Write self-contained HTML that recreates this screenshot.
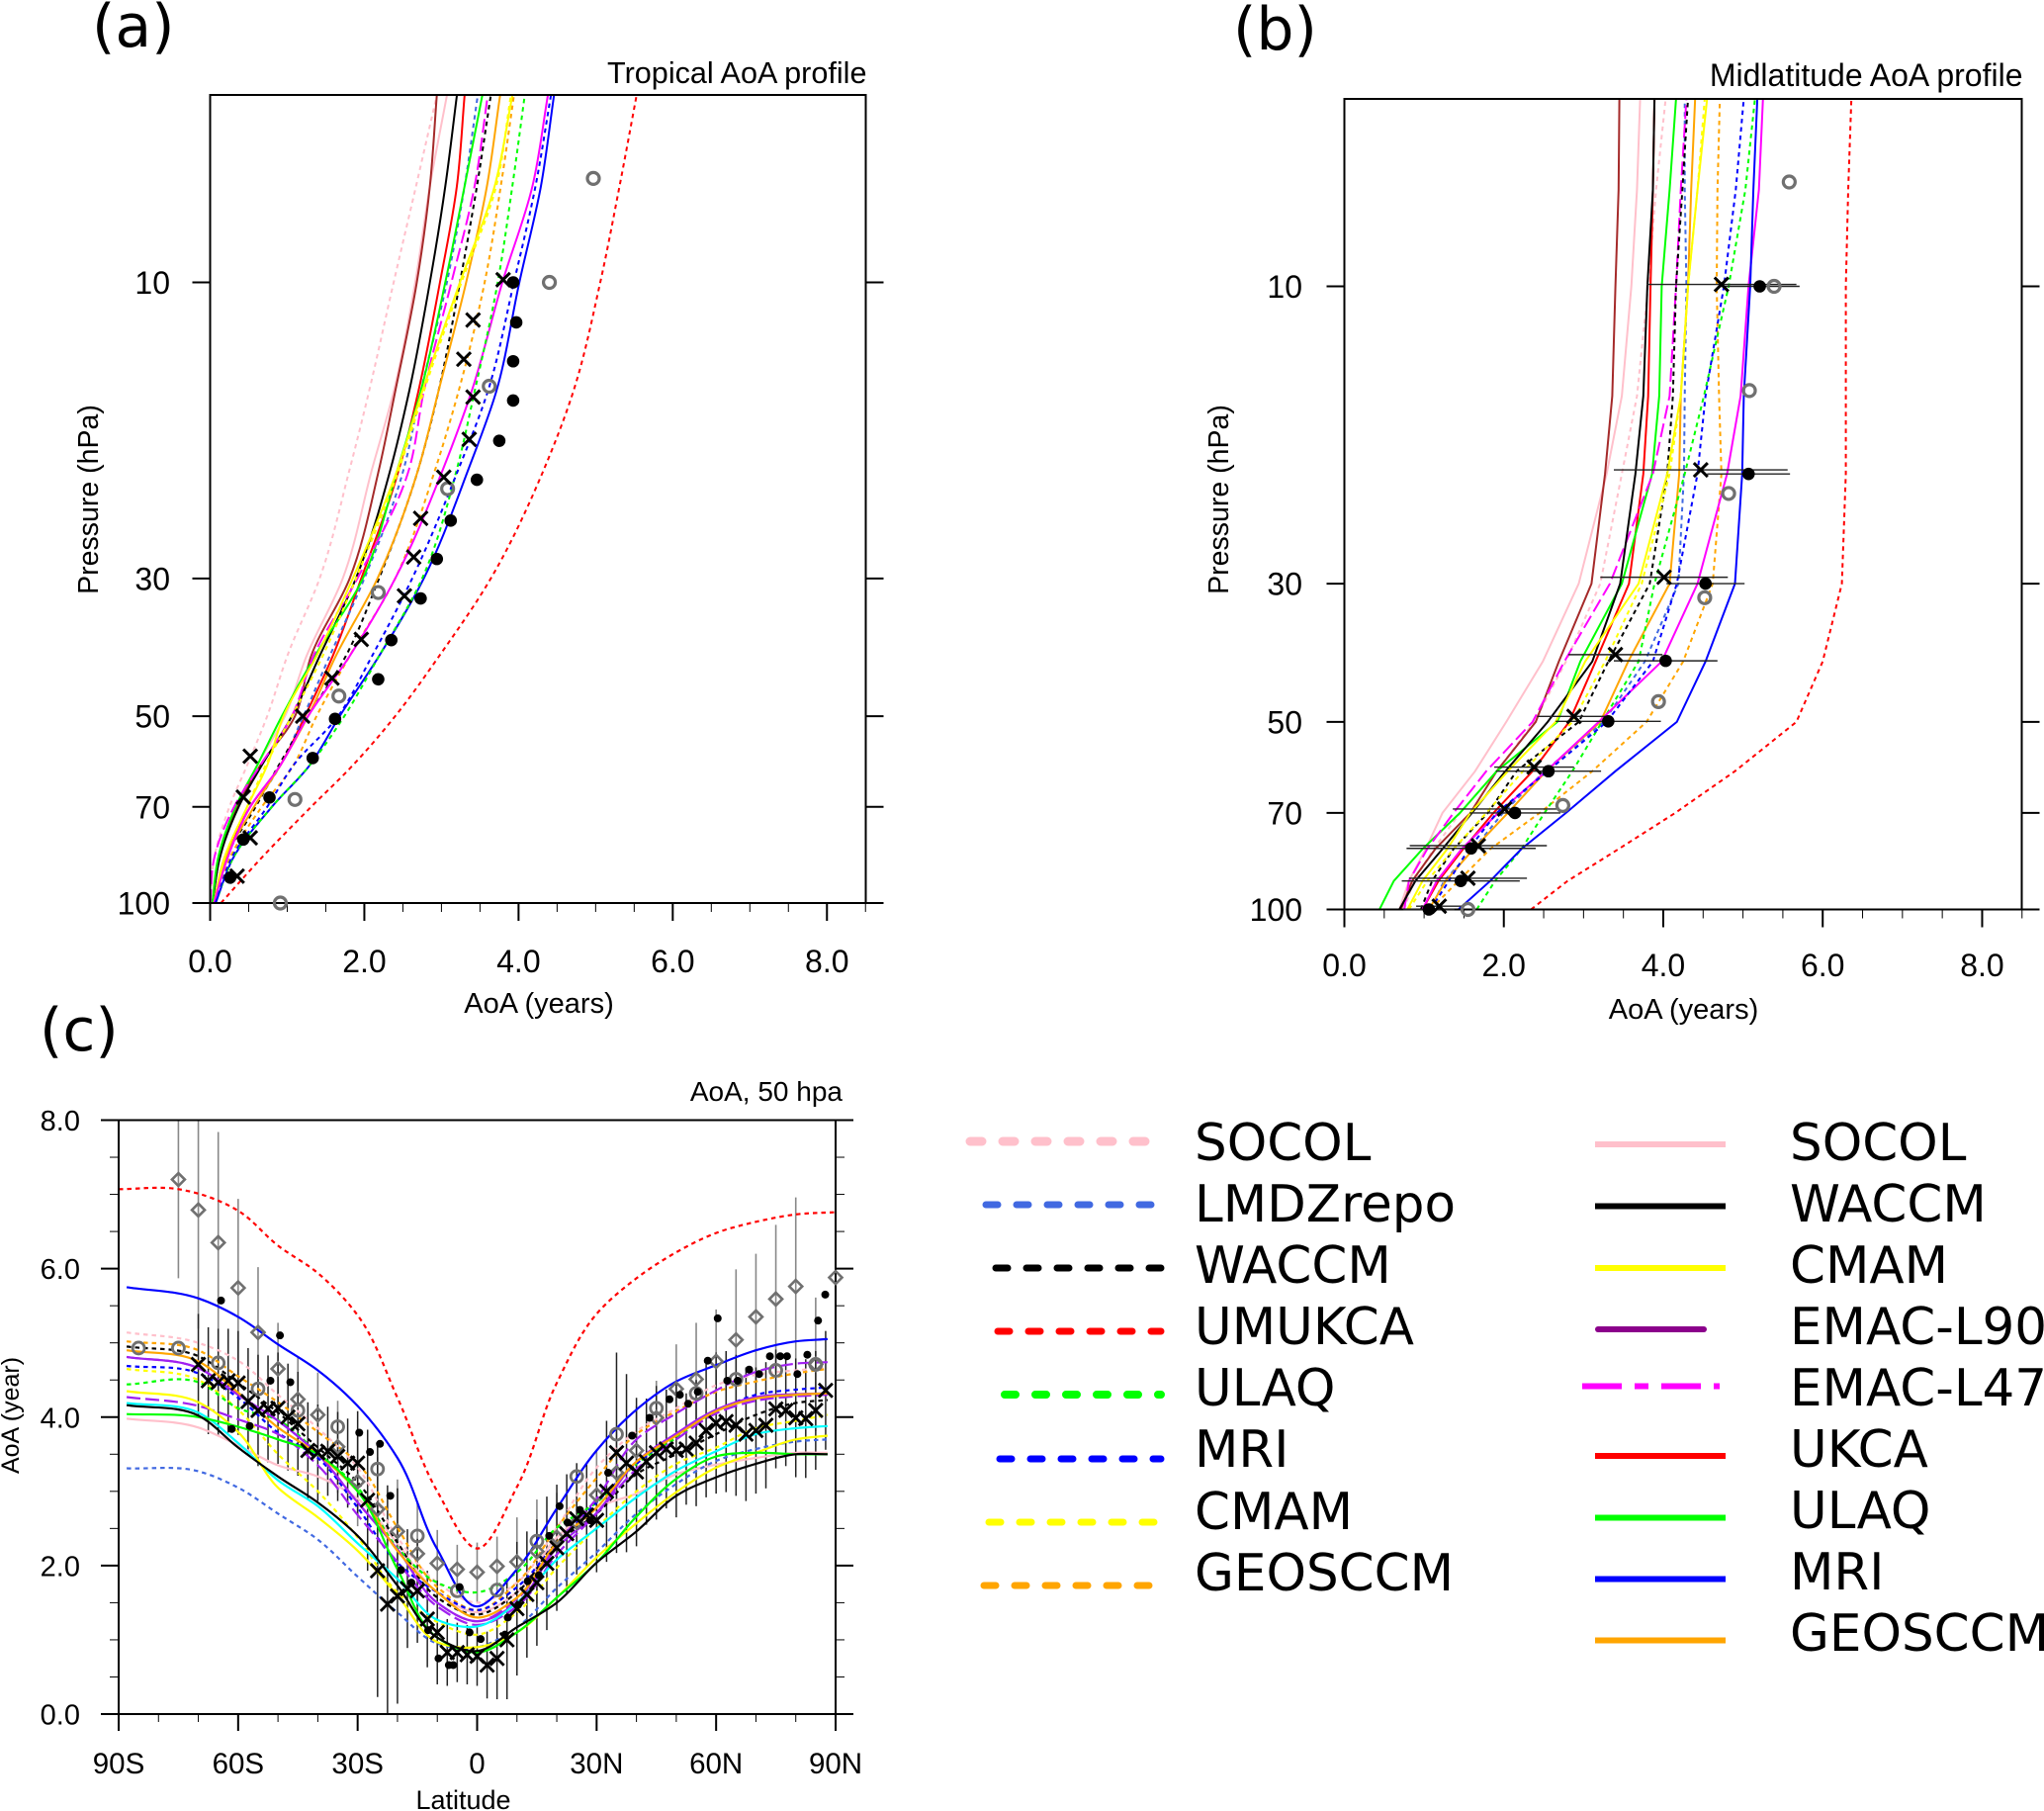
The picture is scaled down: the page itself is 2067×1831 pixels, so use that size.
<!DOCTYPE html>
<html lang="en">
<head>
<meta charset="utf-8">
<title>Age of air profiles</title>
<style>
html,body{margin:0;padding:0;background:#fff}
svg{display:block}
text{fill:#000;font-family:"Liberation Sans",Arial,sans-serif}
.leg{font-family:"DejaVu Sans",sans-serif;font-size:51.5px}
.tag{font-family:"DejaVu Sans",sans-serif;font-size:60px}
</style>
</head>
<body>
<svg id="fig" xmlns="http://www.w3.org/2000/svg" width="2067" height="1831" viewBox="0 0 2067 1831">
  <text class="tag" x="93" y="47">(a)</text>
  <text class="tag" x="1247" y="50">(b)</text>
  <text class="tag" x="40" y="1062">(c)</text>

  <g id="legend-left">
    <g><path d="M981 1154H1172" stroke="#ffc0cb" stroke-width="9" stroke-dasharray="12 21" stroke-linecap="round" fill="none"/><text class="leg" x="1208" y="1173">SOCOL</text></g>
    <g><path d="M997 1218H1165" stroke="#4169e1" stroke-width="7" stroke-dasharray="12 19" stroke-linecap="round" fill="none"/><text class="leg" x="1208" y="1235">LMDZrepo</text></g>
    <g><path d="M1007 1282H1174" stroke="#000" stroke-width="7" stroke-dasharray="12 19" stroke-linecap="round" fill="none"/><text class="leg" x="1208" y="1297">WACCM</text></g>
    <g><path d="M1009 1346H1174" stroke="#f00" stroke-width="7" stroke-dasharray="12 19" stroke-linecap="round" fill="none"/><text class="leg" x="1208" y="1359">UMUKCA</text></g>
    <g><path d="M1016 1410H1174" stroke="#0f0" stroke-width="8" stroke-dasharray="11 20" stroke-linecap="round" fill="none"/><text class="leg" x="1208" y="1421">ULAQ</text></g>
    <g><path d="M1011 1475H1174" stroke="#00f" stroke-width="7" stroke-dasharray="12 19" stroke-linecap="round" fill="none"/><text class="leg" x="1208" y="1483">MRI</text></g>
    <g><path d="M1000 1539H1167" stroke="#ff0" stroke-width="7" stroke-dasharray="12 19" stroke-linecap="round" fill="none"/><text class="leg" x="1208" y="1546">CMAM</text></g>
    <g><path d="M995 1603H1162" stroke="#ffa500" stroke-width="7" stroke-dasharray="12 19" stroke-linecap="round" fill="none"/><text class="leg" x="1208" y="1608">GEOSCCM</text></g>
  </g>
  <g id="legend-right">
    <g><path d="M1613 1157H1745" stroke="#ffc0cb" stroke-width="6" fill="none"/><text class="leg" x="1810" y="1173">SOCOL</text></g>
    <g><path d="M1613 1219.500H1745" stroke="#000" stroke-width="6" fill="none"/><text class="leg" x="1810" y="1235">WACCM</text></g>
    <g><path d="M1613 1282H1745" stroke="#ff0" stroke-width="6" fill="none"/><text class="leg" x="1810" y="1297">CMAM</text></g>
    <g><path d="M1616 1344H1723" stroke="#8b008b" stroke-width="6" stroke-linecap="round" fill="none"/><text class="leg" x="1810" y="1359">EMAC-L90</text></g>
    <g><path d="M1600 1401.500H1739" stroke="#f0f" stroke-width="6" stroke-dasharray="40 13 14 13" fill="none"/><text class="leg" x="1810" y="1421">EMAC-L47</text></g>
    <g><path d="M1613 1472H1745" stroke="#f00" stroke-width="6" fill="none"/><text class="leg" x="1810" y="1483">UKCA</text></g>
    <g><path d="M1613 1534.500H1745" stroke="#0f0" stroke-width="6" fill="none"/><text class="leg" x="1810" y="1545">ULAQ</text></g>
    <g><path d="M1613 1596.500H1745" stroke="#00f" stroke-width="6" fill="none"/><text class="leg" x="1810" y="1607">MRI</text></g>
    <g><path d="M1613 1658.500H1745" stroke="#ffa500" stroke-width="6" fill="none"/><text class="leg" x="1810" y="1669">GEOSCCM</text></g>
  </g>
</svg>

<script>
/* ---------- Panel (a): tropical profile, AoA in years at pressure levels ---------- */
const pressureLevelsA = [100, 85, 70, 60, 50, 40, 30, 20, 15, 10, 7, 5];
const aSocolDash = [0.00, 0.05, 0.25, 0.48, 0.74, 1.00, 1.42, 1.81, 2.06, 2.38, 2.67, 2.94];
const aSocol     = [0.02, 0.10, 0.33, 0.61, 0.97, 1.25, 1.72, 2.10, 2.38, 2.66, 2.85, 3.07];
const aBrown     = [0.03, 0.12, 0.35, 0.65, 1.10, 1.31, 1.81, 2.19, 2.40, 2.68, 2.85, 2.94];
const aWaccm     = [0.03, 0.12, 0.37, 0.67, 1.06, 1.42, 1.89, 2.34, 2.58, 2.85, 3.05, 3.20];
const aUkca      = [0.05, 0.18, 0.52, 0.91, 1.23, 1.59, 1.96, 2.45, 2.70, 2.98, 3.20, 3.30];
const aUlaq      = [0.03, 0.10, 0.33, 0.61, 0.93, 1.36, 1.98, 2.43, 2.73, 3.05, 3.30, 3.53];
const aLmdz      = [0.05, 0.20, 0.57, 0.91, 1.21, 1.55, 2.00, 2.51, 2.73, 3.07, 3.30, 3.47];
const aEmacL47   = [0.00, 0.05, 0.31, 0.65, 1.06, 1.34, 1.91, 2.58, 2.77, 3.13, 3.43, 3.60];
const aWaccmDash = [0.05, 0.20, 0.59, 0.89, 1.27, 1.76, 2.19, 2.70, 2.96, 3.24, 3.46, 3.64];
const aCmam      = [0.05, 0.18, 0.48, 0.74, 0.95, 1.38, 1.85, 2.43, 2.75, 3.24, 3.69, 3.92];
const aGeos      = [0.05, 0.20, 0.57, 0.91, 1.27, 1.63, 2.17, 2.70, 2.96, 3.32, 3.59, 3.76];
const aCmamDash  = [0.05, 0.18, 0.48, 0.72, 1.06, 1.46, 1.89, 2.45, 2.77, 3.26, 3.71, 3.90];
const aGeosDash  = [0.06, 0.25, 0.67, 1.08, 1.38, 1.81, 2.40, 2.92, 3.22, 3.56, 3.77, 3.94];
const aUlaqDash  = [0.07, 0.29, 0.80, 1.29, 1.74, 2.19, 2.75, 3.20, 3.43, 3.73, 3.92, 4.08];
const aEmacL90   = [0.05, 0.22, 0.52, 0.91, 1.27, 1.81, 2.40, 3.02, 3.39, 3.79, 4.18, 4.38];
const aMriDash   = [0.07, 0.27, 0.74, 1.08, 1.66, 2.10, 2.62, 3.22, 3.60, 3.94, 4.22, 4.42];
const aMri       = [0.07, 0.29, 0.80, 1.29, 1.68, 2.19, 2.77, 3.35, 3.71, 4.01, 4.29, 4.46];
const aUmukca    = [0.14, 0.65, 1.31, 1.85, 2.40, 2.97, 3.64, 4.33, 4.71, 5.06, 5.31, 5.53];

const aDotPressure = [10, 11.6, 13.4, 15.5, 18, 20.8, 24.2, 27.9, 32.3, 37.7, 43.6, 50.5, 58.4, 67.6, 79, 91];
const aDotValues   = [3.93, 3.97, 3.93, 3.93, 3.75, 3.46, 3.12, 2.94, 2.73, 2.35, 2.18, 1.62, 1.33, 0.77, 0.43, 0.26];
const aCrossPressure = [9.9, 11.5, 13.3, 15.3, 17.9, 20.6, 24, 27.7, 32, 37.6, 43.4, 50, 58, 67.5, 78.5, 90.5];
const aCrossValues   = [3.80, 3.41, 3.29, 3.41, 3.36, 3.03, 2.73, 2.64, 2.52, 1.96, 1.58, 1.20, 0.52, 0.43, 0.52, 0.35];
const ringPressure = [6.8, 10, 14.7, 21.5, 31.6, 46.4, 68.1, 100];
const aRingValues  = [4.97, 4.40, 3.62, 3.08, 2.18, 1.67, 1.10, 0.91];

/* ---------- Panel (b): midlatitude profile ---------- */
const pressureLevelsB = [100, 90, 80, 70, 60, 50, 40, 30, 20, 15, 10, 7, 5];
const bSocol     = [0.69, 0.81, 1.02, 1.23, 1.64, 2.03, 2.49, 2.94, 3.29, 3.48, 3.60, 3.67, 3.71];
const bBrown     = [0.71, 0.85, 1.14, 1.58, 1.91, 2.40, 2.69, 3.10, 3.27, 3.36, 3.40, 3.44, 3.45];
const bSocolDash = [0.75, 0.87, 1.12, 1.45, 1.91, 2.38, 2.78, 3.21, 3.48, 3.67, 3.81, 3.91, 4.03];
const bEmacL47   = [0.75, 0.81, 1.04, 1.37, 1.78, 2.36, 2.76, 3.33, 3.87, 4.08, 4.16, 4.22, 4.29];
const bWaccm     = [0.69, 0.89, 1.23, 1.60, 2.02, 2.55, 3.11, 3.46, 3.65, 3.75, 3.80, 3.87, 3.89];
const bUkca      = [0.98, 1.18, 1.49, 1.87, 2.36, 2.82, 3.15, 3.57, 3.75, 3.81, 3.84, 3.87, 3.89];
const bUlaq      = [0.44, 0.62, 0.98, 1.45, 1.91, 2.67, 2.96, 3.48, 3.86, 3.95, 3.98, 4.08, 4.16];
const bLmdz      = [1.08, 1.25, 1.62, 1.99, 2.51, 3.25, 3.77, 4.19, 4.26, 4.27, 4.29, 4.27, 4.27];
const bWaccmDash = [0.96, 1.10, 1.37, 1.80, 2.16, 2.94, 3.31, 3.83, 4.05, 4.12, 4.16, 4.24, 4.31];
const bCmam      = [0.79, 0.98, 1.29, 1.58, 2.05, 2.65, 3.02, 3.69, 4.05, 4.22, 4.31, 4.43, 4.55];
const bCmamDash  = [0.81, 1.04, 1.37, 1.78, 2.24, 2.86, 3.27, 3.73, 4.08, 4.22, 4.31, 4.43, 4.52];
const bGeos      = [1.06, 1.27, 1.62, 2.05, 2.53, 3.21, 3.56, 4.08, 4.20, 4.22, 4.31, 4.35, 4.40];
const bGeosDash  = [1.08, 1.43, 1.83, 2.45, 3.11, 3.79, 4.25, 4.62, 4.73, 4.70, 4.67, 4.68, 4.71];
const bUlaqDash  = [1.66, 1.89, 2.22, 2.51, 2.86, 3.23, 3.69, 3.89, 4.27, 4.51, 4.82, 5.03, 5.15];
const bEmacL90   = [0.98, 1.16, 1.47, 1.93, 2.53, 3.19, 3.98, 4.43, 4.80, 4.97, 5.07, 5.20, 5.25];
const bMriDash   = [1.08, 1.31, 1.56, 1.91, 2.55, 3.29, 3.87, 4.17, 4.43, 4.53, 4.76, 4.91, 5.01];
const bMri       = [1.43, 1.83, 2.22, 2.78, 3.40, 4.17, 4.53, 4.90, 4.99, 5.01, 5.09, 5.13, 5.18];
const bUmukca    = [2.34, 2.80, 3.44, 4.15, 4.90, 5.67, 6.00, 6.24, 6.29, 6.29, 6.29, 6.32, 6.36];

const bDotPressure = [10, 20, 30, 39.9, 49.9, 60, 70, 79.8, 90, 100];
const bDotValues   = [5.21, 5.07, 4.53, 4.03, 3.31, 2.56, 2.14, 1.59, 1.46, 1.06];
const bDotErrors   = [0.50, 0.52, 0.49, 0.65, 0.66, 0.66, 0.57, 0.81, 0.74, 0.32];
const bCrossPressure = [9.93, 19.7, 29.3, 39, 49, 59.1, 69, 79, 89.1, 98.8];
const bCrossValues   = [4.73, 4.47, 4.01, 3.40, 2.88, 2.38, 2.01, 1.68, 1.55, 1.19];
const bCrossErrors   = [0.94, 1.09, 0.80, 0.59, 0.46, 0.50, 0.65, 0.86, 0.74, 0.29];
const bRingValues    = [5.58, 5.39, 5.08, 4.82, 4.52, 3.94, 2.74, 1.55];

/* ---------- Panel (c): latitudinal AoA at 50 hPa ---------- */
const latitudes  = [-88, -70, -60, -50, -40, -30, -20, -10, 0, 10, 20, 30, 40, 50, 60, 70, 80, 88];
const latUmukca  = [-90, -75, -70, -60, -50, -40, -30, -20, -10, 0, 10, 20, 30, 40, 50, 60, 70, 80, 90];
const cUmukca    = [7.07, 7.07, 7.01, 6.78, 6.31, 5.94, 5.37, 4.26, 3.00, 2.23, 3.06, 4.46, 5.39, 5.87, 6.22, 6.48, 6.63, 6.73, 6.76];
const cMri       = [5.75, 5.60, 5.35, 4.98, 4.63, 4.15, 3.45, 2.22, 1.45, 1.95, 2.77, 3.55, 4.10, 4.48, 4.70, 4.90, 5.02, 5.05];
const cLmdz      = [3.31, 3.27, 3.05, 2.70, 2.35, 1.85, 1.37, 0.95, 0.90, 1.17, 1.70, 2.18, 2.70, 3.10, 3.41, 3.57, 3.67, 3.70];
const cWaccm     = [4.16, 4.02, 3.59, 3.20, 2.85, 2.40, 1.73, 1.03, 0.85, 1.17, 1.50, 2.04, 2.46, 2.94, 3.19, 3.37, 3.50, 3.50];
const cCmam      = [4.35, 4.20, 3.80, 3.05, 2.65, 2.20, 1.60, 0.97, 0.90, 1.10, 1.57, 2.11, 2.57, 2.99, 3.32, 3.52, 3.70, 3.75];
const cCyan      = [4.19, 4.06, 3.65, 3.15, 2.80, 2.30, 1.82, 1.27, 1.18, 1.50, 2.08, 2.50, 2.92, 3.28, 3.54, 3.77, 3.85, 3.88];
const cUlaq      = [4.04, 4.00, 3.87, 3.70, 3.50, 3.00, 1.95, 1.03, 0.83, 1.10, 1.57, 2.04, 2.66, 3.17, 3.47, 3.52, 3.50, 3.50];
const cSocol     = [3.98, 3.86, 3.62, 3.35, 3.20, 2.90, 2.30, 1.64, 1.37, 1.64, 2.38, 2.78, 2.97, 3.23, 3.36, 3.45, 3.52, 3.52];
const cUlaqDash  = [4.44, 4.47, 4.12, 3.96, 3.52, 3.05, 2.24, 1.77, 1.64, 1.91, 2.51, 2.85, 3.37, 3.72, 4.08, 4.25, 4.30, 4.32];
const cPurpleDash= [4.27, 4.15, 3.97, 3.77, 3.35, 2.68, 2.05, 1.45, 1.20, 1.45, 2.15, 2.70, 3.30, 3.70, 4.05, 4.22, 4.28, 4.30];
const cPurple    = [4.81, 4.66, 4.30, 3.95, 3.50, 2.85, 2.22, 1.50, 1.25, 1.50, 2.24, 2.71, 3.40, 3.78, 4.10, 4.27, 4.31, 4.32];
const cPurpleHigh= [4.81, 4.66, 4.30, 3.95, 3.50, 2.85, 2.22, 1.50, 1.25, 1.55, 2.30, 2.90, 3.70, 4.05, 4.36, 4.61, 4.72, 4.74];
const cGeos      = [4.90, 4.75, 4.33, 3.86, 3.50, 3.00, 2.20, 1.64, 1.30, 1.57, 2.31, 2.78, 3.40, 3.75, 4.08, 4.25, 4.30, 4.32];
const cGeosDash  = [5.02, 4.90, 4.55, 4.20, 3.80, 3.38, 2.51, 1.71, 1.40, 1.77, 2.51, 3.18, 3.77, 4.08, 4.34, 4.48, 4.59, 4.65];
const cWaccmDash = [4.95, 4.82, 4.46, 4.06, 3.59, 3.12, 2.31, 1.57, 1.34, 1.64, 2.31, 2.70, 3.23, 3.50, 3.77, 4.03, 4.19, 4.23];
const cSocolDash = [5.14, 5.00, 4.76, 4.30, 3.85, 3.32, 2.38, 1.77, 1.50, 1.77, 2.51, 3.32, 3.81, 4.12, 4.43, 4.57, 4.63, 4.66];
const cMriDash   = [4.69, 4.59, 4.26, 3.79, 3.45, 2.78, 2.04, 1.64, 1.40, 1.71, 2.31, 2.85, 3.37, 3.77, 4.08, 4.30, 4.37, 4.40];
const cCmamDash  = [4.65, 4.50, 4.10, 3.50, 3.00, 2.38, 1.64, 1.24, 1.07, 1.37, 1.97, 2.51, 3.00, 3.37, 3.59, 3.85, 3.95, 4.03];

const crossLats = [-70, -67.5, -65, -62.5, -60, -57.5, -55, -52.5, -50, -47.5, -45, -42.5, -40, -37.5, -35, -32.5, -30, -27.5, -25, -22.5, -20, -17.5, -15, -12.5, -10, -7.5, -5, -2.5, 0, 2.5, 5, 7.5, 10, 12.5, 15, 17.5, 20, 22.5, 25, 27.5, 30, 32.5, 35, 37.5, 40, 42.5, 45, 47.5, 50, 52.5, 55, 57.5, 60, 62.5, 65, 67.5, 70, 72.5, 75, 77.5, 80, 82.5, 85, 87.5];
const crossVals = [4.71, 4.49, 4.47, 4.49, 4.46, 4.21, 4.09, 4.11, 4.12, 4.00, 3.91, 3.55, 3.52, 3.54, 3.47, 3.38, 3.38, 2.88, 1.93, 1.48, 1.59, 1.69, 1.66, 1.28, 1.10, 0.83, 0.83, 0.80, 0.78, 0.66, 0.75, 1.00, 1.42, 1.61, 1.77, 2.03, 2.24, 2.43, 2.63, 2.68, 2.61, 3.00, 3.52, 3.38, 3.26, 3.40, 3.52, 3.57, 3.55, 3.57, 3.65, 3.82, 3.92, 3.94, 3.89, 3.77, 3.82, 3.89, 4.11, 4.09, 3.99, 3.98, 4.09, 4.36];
const crossErrs = [0.68, 0.72, 0.72, 0.70, 0.70, 0.72, 0.75, 0.72, 0.75, 0.72, 0.70, 0.65, 0.65, 0.60, 0.60, 0.60, 0.70, 0.95, 1.70, 1.60, 1.45, 0.80, 0.70, 0.65, 0.70, 0.45, 0.40, 0.40, 0.40, 0.45, 0.55, 0.80, 0.90, 0.85, 0.85, 0.90, 0.85, 0.80, 0.75, 0.70, 0.70, 0.95, 1.35, 1.20, 1.00, 0.85, 0.90, 0.80, 0.90, 0.75, 0.85, 0.90, 0.95, 0.95, 0.95, 0.90, 0.85, 0.85, 0.80, 0.75, 0.80, 0.80, 0.80, 0.80];
const dotLats = [-64.3, -61.6, -57.1, -51.9, -49.5, -46.9, -29.6, -26.9, -24.4, -21.8, -19.1, -16.5, -12.3, -9.7, -7.1, -6, -4.4, -1.9, 0.9, 7, 7.7, 10.3, 12.7, 15.5, 18.1, 20.7, 22.7, 25.8, 28.4, 32.9, 38.9, 43.3, 48.3, 50.9, 53, 55.4, 57.9, 60.4, 62.8, 65.4, 68.3, 70.8, 73.5, 76.1, 77.8, 80.4, 82.9, 85.6, 87.4];
const dotVals = [5.57, 3.84, 3.88, 4.49, 5.10, 4.47, 3.79, 3.53, 3.64, 2.94, 1.94, 1.77, 1.13, 0.75, 0.66, 0.66, 1.71, 1.10, 1.01, 1.07, 1.30, 1.47, 1.79, 1.87, 2.40, 2.80, 2.58, 2.75, 2.61, 3.25, 3.75, 3.99, 4.24, 4.30, 4.18, 4.34, 4.76, 5.33, 4.49, 4.49, 4.64, 4.58, 4.82, 4.82, 4.82, 4.58, 4.84, 5.30, 5.65];
const diamondLats = [-75, -70, -65, -60, -55, -50, -45, -40, -35, -30, -25, -20, -15, -10, -5, 0, 5, 10, 15, 20, 25, 30, 35, 40, 45, 50, 55, 60, 65, 70, 75, 80, 85, 90];
const diamondVals = [7.20, 6.79, 6.35, 5.74, 5.14, 4.65, 4.24, 4.03, 3.60, 3.13, 2.76, 2.46, 2.16, 2.03, 1.95, 1.91, 1.99, 2.05, 2.19, 2.38, 2.58, 2.95, 3.25, 3.55, 3.99, 4.38, 4.51, 4.75, 5.04, 5.35, 5.59, 5.76, 4.71, 5.88];
const diamondErrs = [1.33, 1.60, 1.49, 1.20, 0.88, 0.62, 0.57, 0.57, 0.62, 0.60, 0.70, 0.70, 0.70, 0.45, 0.33, 0.40, 0.40, 0.60, 0.70, 0.60, 0.60, 0.60, 0.60, 0.60, 0.50, 0.60, 0.76, 0.70, 0.95, 0.85, 1.00, 1.20, 0.90, 0.00];
const ringLats = [-85, -75, -65, -55, -45, -35, -25, -15, -5, 5, 15, 25, 35, 45, 55, 65, 75, 85];
const ringVals = [4.93, 4.93, 4.73, 4.38, 4.09, 3.87, 3.30, 2.40, 1.66, 1.67, 2.33, 3.20, 3.77, 4.12, 4.32, 4.51, 4.63, 4.71];

/* ---------- tick labels ---------- */
const pressureTicks = [100, 70, 50, 30, 10];
const aoaTicks = [0, 2, 4, 6, 8];
const aoaTickLabels = ['0.0', '2.0', '4.0', '6.0', '8.0'];
const latTicks = [-90, -60, -30, 0, 30, 60, 90];
const latTickLabels = ['90S', '60S', '30S', '0', '30N', '60N', '90N'];

/* ---------- drawing ---------- */
const NS = 'http://www.w3.org/2000/svg';
const fig = document.getElementById('fig');
const PINK = '#ffc0cb', ROYAL = '#4169e1', BROWN = '#a52a2a', LIME = '#00ff00', ORANGE = '#ffa500', PURPLE = '#a020f0', GREY = '#707070';

function mk(parent, tag, attrs, name) {
  const el = document.createElementNS(NS, tag);
  for (const k in attrs) el.setAttribute(k, attrs[k]);
  
  
  parent.appendChild(el);
  return el;
}
function label(parent, x, y, str, size, anchor, name, rot) {
  const a = {x: x, y: y, 'font-size': size, 'text-anchor': anchor};
  if (rot) a.transform = 'rotate(-90 ' + x + ' ' + y + ')';
  const t = mk(parent, 'text', a, name);
  t.textContent = str;
  return t;
}
/* chord-length Catmull-Rom so that unevenly spaced knots do not kink */
function spline(pts) {
  const dist = (a, b) => Math.max(Math.hypot(a[0] - b[0], a[1] - b[1]), 0.01);
  const tan = i => {
    if (i === 0) { const d = dist(pts[1], pts[0]); return [(pts[1][0] - pts[0][0]) / d, (pts[1][1] - pts[0][1]) / d]; }
    if (i === pts.length - 1) { const d = dist(pts[i], pts[i - 1]); return [(pts[i][0] - pts[i - 1][0]) / d, (pts[i][1] - pts[i - 1][1]) / d]; }
    const a = dist(pts[i], pts[i - 1]), b = dist(pts[i + 1], pts[i]);
    return [0, 1].map(k => ((pts[i][k] - pts[i - 1][k]) / a * b + (pts[i + 1][k] - pts[i][k]) / b * a) / (a + b));
  };
  let d = 'M' + pts[0][0].toFixed(1) + ' ' + pts[0][1].toFixed(1);
  for (let i = 0; i < pts.length - 1; i++) {
    const h = dist(pts[i + 1], pts[i]) / 3, t1 = tan(i), t2 = tan(i + 1);
    d += 'C' + (pts[i][0] + t1[0] * h).toFixed(1) + ' ' + (pts[i][1] + t1[1] * h).toFixed(1) + ' ' +
         (pts[i + 1][0] - t2[0] * h).toFixed(1) + ' ' + (pts[i + 1][1] - t2[1] * h).toFixed(1) + ' ' +
         pts[i + 1][0].toFixed(1) + ' ' + pts[i + 1][1].toFixed(1);
  }
  return d;
}
function polyline(pts) {
  return 'M' + pts.map(p => p[0].toFixed(1) + ' ' + p[1].toFixed(1)).join('L');
}
function drawCross(g, x, y, h, w, name) {
  mk(g, 'path', {d: 'M' + (x - h) + ' ' + (y - h) + 'L' + (x + h) + ' ' + (y + h) + 'M' + (x - h) + ' ' + (y + h) + 'L' + (x + h) + ' ' + (y - h), stroke: '#000', 'stroke-width': w, fill: 'none'}, name);
}
function makeProfile(cfg) {
  const panel = mk(fig, 'g', {}, cfg.id);
  const xS = v => cfg.L + v * cfg.unit;
  const yS = p => cfg.B - Math.log10(100 / p) * cfg.decade;
  const clipId = cfg.id + '-clip';
  const cp = mk(panel, 'clipPath', {id: clipId}, cfg.id + '-clip-region');
  mk(cp, 'rect', {x: cfg.L, y: cfg.T, width: cfg.R - cfg.L, height: cfg.B - cfg.T}, cfg.id + '-clip-rect');
  const lines = mk(panel, 'g', {'clip-path': 'url(#' + clipId + ')', fill: 'none'}, cfg.id + '-series');
  cfg.series.forEach(s => {
    const pts = s.v.map((v, i) => [xS(v), yS(cfg.levels[i])]);
    const a = {d: cfg.smooth ? spline(pts) : polyline(pts), stroke: s.c, 'stroke-width': cfg.lw, fill: 'none'};
    if (s.dash) a['stroke-dasharray'] = s.dash;
    mk(lines, 'path', a, 'series-' + s.n);
  });
  mk(panel, 'rect', {x: cfg.L, y: cfg.T, width: cfg.R - cfg.L, height: cfg.B - cfg.T, fill: 'none', stroke: '#000', 'stroke-width': 2}, cfg.id + '-frame');
  const ticks = mk(panel, 'g', {stroke: '#000', 'stroke-width': 2}, cfg.id + '-ticks');
  pressureTicks.forEach(p => {
    const y = yS(p);
    mk(ticks, 'line', {x1: cfg.L - 18, x2: cfg.L, y1: y, y2: y}, 'y-tick-left-' + p);
    mk(ticks, 'line', {x1: cfg.R, x2: cfg.R + 18, y1: y, y2: y}, 'y-tick-right-' + p);
    label(panel, cfg.labelRight, y + 11.500, String(p), 32, 'end', 'y-tick-label-' + p);
  });
  for (let v = 0; v <= 8.5; v += 0.5) {
    const major = aoaTicks.indexOf(v) >= 0;
    mk(ticks, 'line', {x1: xS(v), x2: xS(v), y1: cfg.B, y2: cfg.B + (major ? 18 : 9), 'stroke-width': major ? 2 : 1}, major ? 'x-tick-major' : 'x-tick-minor');
  }
  aoaTicks.forEach((v, i) => label(panel, xS(v), cfg.xLabelBase, aoaTickLabels[i], 32, 'middle', 'x-tick-label-' + aoaTickLabels[i]));
  label(panel, cfg.R + 1, cfg.titleBase, cfg.title, cfg.titleSize, 'end', cfg.id + '-title');
  label(panel, cfg.xTitleX, cfg.xTitleBase, 'AoA (years)', 29, 'middle', 'x-axis-title');
  label(panel, cfg.yTitleX, 505, 'Pressure (hPa)', 28.5, 'middle', 'y-axis-title', true);
  const marks = mk(panel, 'g', {}, cfg.id + '-observations');
  if (cfg.dotErr) {
    cfg.dotP.forEach((p, i) => {
      mk(marks, 'line', {x1: xS(cfg.dotV[i] - cfg.dotErr[i]), x2: xS(cfg.dotV[i] + cfg.dotErr[i]), y1: yS(p), y2: yS(p), stroke: '#222', 'stroke-width': 1.400}, 'dot-error-bar');
    });
    cfg.crossP.forEach((p, i) => {
      mk(marks, 'line', {x1: xS(cfg.crossV[i] - cfg.crossErr[i]), x2: xS(cfg.crossV[i] + cfg.crossErr[i]), y1: yS(p), y2: yS(p), stroke: '#222', 'stroke-width': 1.400}, 'cross-error-bar');
    });
  }
  cfg.ringV.forEach((v, i) => mk(marks, 'circle', {cx: xS(v), cy: yS(ringPressure[i]), r: 6, fill: 'none', stroke: GREY, 'stroke-width': 3.200}, 'obs-ring'));
  cfg.dotV.forEach((v, i) => mk(marks, 'circle', {cx: xS(v), cy: yS(cfg.dotP[i]), r: 6.300, fill: '#000'}, 'obs-dot'));
  cfg.crossV.forEach((v, i) => drawCross(marks, xS(v), yS(cfg.crossP[i]), 7, 3, 'obs-cross'));
}

const styleDash = '4.500 4', longDash = '14 5';
makeProfile({
  id: 'panel-a', L: 212.500, R: 875.500, T: 96, B: 913, unit: 77.97, decade: 627.5, lw: 2, smooth: true,
  levels: pressureLevelsA, labelRight: 172, xLabelBase: 983, title: 'Tropical AoA profile', titleSize: 30.6, titleBase: 84,
  xTitleX: 545, xTitleBase: 1024, yTitleX: 99,
  series: [
    {n: 'socol-dashed', v: aSocolDash, c: PINK, dash: styleDash},
    {n: 'socol', v: aSocol, c: PINK},
    {n: 'brown', v: aBrown, c: BROWN},
    {n: 'waccm', v: aWaccm, c: '#000'},
    {n: 'ukca', v: aUkca, c: '#f00'},
    {n: 'lmdzrepo', v: aLmdz, c: ROYAL, dash: styleDash},
    {n: 'ulaq', v: aUlaq, c: LIME},
    {n: 'emac-l47', v: aEmacL47, c: '#f0f', dash: longDash},
    {n: 'waccm-dashed', v: aWaccmDash, c: '#000', dash: styleDash},
    {n: 'geosccm', v: aGeos, c: ORANGE},
    {n: 'cmam', v: aCmam, c: '#ff0'},
    {n: 'cmam-dashed', v: aCmamDash, c: '#ff0', dash: styleDash},
    {n: 'geosccm-dashed', v: aGeosDash, c: ORANGE, dash: styleDash},
    {n: 'emac-l90', v: aEmacL90, c: '#f0f'},
    {n: 'mri', v: aMri, c: '#00f'},
    {n: 'ulaq-dashed', v: aUlaqDash, c: LIME, dash: styleDash},
    {n: 'mri-dashed', v: aMriDash, c: '#00f', dash: styleDash},
    {n: 'umukca', v: aUmukca, c: '#f00', dash: styleDash}
  ],
  dotP: aDotPressure, dotV: aDotValues, crossP: aCrossPressure, crossV: aCrossValues, ringV: aRingValues
});
makeProfile({
  id: 'panel-b', L: 1359.500, R: 2044.500, T: 100, B: 919.500, unit: 80.62, decade: 630, lw: 2, smooth: false,
  levels: pressureLevelsB, labelRight: 1317, xLabelBase: 987, title: 'Midlatitude AoA profile', titleSize: 32, titleBase: 87,
  xTitleX: 1702.500, xTitleBase: 1030, yTitleX: 1242,
  series: [
    {n: 'socol-dashed', v: bSocolDash, c: PINK, dash: styleDash},
    {n: 'socol', v: bSocol, c: PINK},
    {n: 'brown', v: bBrown, c: BROWN},
    {n: 'ukca', v: bUkca, c: '#f00'},
    {n: 'lmdzrepo', v: bLmdz, c: ROYAL, dash: styleDash},
    {n: 'ulaq', v: bUlaq, c: LIME},
    {n: 'emac-l47', v: bEmacL47, c: '#f0f', dash: longDash},
    {n: 'waccm', v: bWaccm, c: '#000'},
    {n: 'waccm-dashed', v: bWaccmDash, c: '#000', dash: styleDash},
    {n: 'cmam-dashed', v: bCmamDash, c: '#ff0', dash: styleDash},
    {n: 'geosccm', v: bGeos, c: ORANGE},
    {n: 'cmam', v: bCmam, c: '#ff0'},
    {n: 'geosccm-dashed', v: bGeosDash, c: ORANGE, dash: styleDash},
    {n: 'ulaq-dashed', v: bUlaqDash, c: LIME, dash: styleDash},
    {n: 'emac-l90', v: bEmacL90, c: '#f0f'},
    {n: 'mri-dashed', v: bMriDash, c: '#00f', dash: styleDash},
    {n: 'mri', v: bMri, c: '#00f'},
    {n: 'umukca', v: bUmukca, c: '#f00', dash: styleDash}
  ],
  dotP: bDotPressure, dotV: bDotValues, dotErr: bDotErrors,
  crossP: bCrossPressure, crossV: bCrossValues, crossErr: bCrossErrors, ringV: bRingValues
});

/* Panel (c) */
(function () {
  const L = 120, R = 845, T = 1132.500, B = 1733;
  const panel = mk(fig, 'g', {}, 'panel-c');
  const xS = lat => L + (lat + 90) * (R - L) / 180;
  const yS = v => B - v * (B - T) / 8;
  const cp = mk(panel, 'clipPath', {id: 'panel-c-clip'}, 'panel-c-clip-region');
  mk(cp, 'rect', {x: L, y: T, width: R - L, height: B - T}, 'panel-c-clip-rect');
  const sd = '4.500 4';
  const vbars = mk(panel, 'g', {}, 'panel-c-error-bars');
  diamondLats.forEach((la, i) => {
    if (diamondErrs[i] > 0) mk(vbars, 'line', {x1: xS(la), x2: xS(la), y1: Math.max(T, yS(diamondVals[i] + diamondErrs[i])), y2: Math.min(B, yS(diamondVals[i] - diamondErrs[i])), stroke: '#888', 'stroke-width': 1.600}, 'diamond-error-bar');
  });
  crossLats.forEach((la, i) => {
    mk(vbars, 'line', {x1: xS(la), x2: xS(la), y1: Math.max(T, yS(crossVals[i] + crossErrs[i])), y2: Math.min(B, yS(crossVals[i] - crossErrs[i])), stroke: '#222', 'stroke-width': 1.500}, 'cross-error-bar');
  });
  const plot = mk(panel, 'g', {'clip-path': 'url(#panel-c-clip)', fill: 'none'}, 'panel-c-series');
  const series = [
    ['socol-dashed', cSocolDash, PINK, sd], ['socol', cSocol, PINK], ['lmdzrepo', cLmdz, ROYAL, sd],
    ['cmam-dashed', cCmamDash, '#ff0', sd], ['waccm-dashed', cWaccmDash, '#000', sd], ['geosccm-dashed', cGeosDash, ORANGE, sd],
    ['ulaq-dashed', cUlaqDash, LIME, sd], ['mri-dashed', cMriDash, '#00f', sd], ['emac-high', cPurpleHigh, PURPLE, '14 5'],
    ['emac-l47', cPurpleDash, PURPLE, '14 5'], ['emac-l90', cPurple, PURPLE], ['geosccm', cGeos, ORANGE],
    ['cyan-model', cCyan, '#00ffff'], ['cmam', cCmam, '#ff0'], ['ulaq', cUlaq, LIME], ['waccm', cWaccm, '#000'], ['mri', cMri, '#00f']
  ];
  series.forEach(s => {
    const a = {d: spline(s[1].map((v, i) => [xS(latitudes[i]), yS(v)])), stroke: s[2], 'stroke-width': 2.200, fill: 'none'};
    if (s[3]) a['stroke-dasharray'] = s[3];
    mk(plot, 'path', a, 'series-' + s[0]);
  });
  mk(plot, 'path', {d: spline(cUmukca.map((v, i) => [xS(latUmukca[i]), yS(v)])), stroke: '#f00', 'stroke-width': 2.200, 'stroke-dasharray': sd, fill: 'none'}, 'series-umukca');

  mk(panel, 'rect', {x: L, y: T, width: R - L, height: B - T, fill: 'none', stroke: '#000', 'stroke-width': 2}, 'panel-c-frame');
  const ticks = mk(panel, 'g', {stroke: '#000', 'stroke-width': 2}, 'panel-c-ticks');
  for (let v = 0; v <= 8; v += 0.5) {
    const major = v % 2 === 0;
    const len = major ? 18 : 9;
    mk(ticks, 'line', {x1: L - len, x2: L, y1: yS(v), y2: yS(v), 'stroke-width': major ? 2 : 1}, 'y-tick-left');
    mk(ticks, 'line', {x1: R, x2: R + len, y1: yS(v), y2: yS(v), 'stroke-width': major ? 2 : 1}, 'y-tick-right');
    if (major) label(panel, 81, yS(v) + 10.500, v.toFixed(1), 29, 'end', 'y-tick-label-' + v.toFixed(1));
  }
  for (let la = -90; la <= 90; la += 10) {
    const major = latTicks.indexOf(la) >= 0;
    mk(ticks, 'line', {x1: xS(la), x2: xS(la), y1: B, y2: B + (major ? 17 : 8), 'stroke-width': major ? 2 : 1}, major ? 'x-tick-major' : 'x-tick-minor');
  }
  latTicks.forEach((la, i) => label(panel, xS(la), 1793, latTickLabels[i], 29.500, 'middle', 'x-tick-label-' + latTickLabels[i]));
  label(panel, 468.500, 1829, 'Latitude', 27, 'middle', 'x-axis-title');
  label(panel, 19, 1431, 'AoA (year)', 25, 'middle', 'y-axis-title', true);
  label(panel, 852, 1113, 'AoA, 50 hpa', 28, 'end', 'panel-c-title');

  const marks = mk(panel, 'g', {}, 'panel-c-observations');
  ringLats.forEach((la, i) => mk(marks, 'circle', {cx: xS(la), cy: yS(ringVals[i]), r: 6, fill: 'none', stroke: GREY, 'stroke-width': 2.800}, 'obs-ring'));
  diamondLats.forEach((la, i) => {
    const x = xS(la), y = yS(diamondVals[i]), h = 6.500;
    mk(marks, 'path', {d: 'M' + x + ' ' + (y - h) + 'L' + (x + h) + ' ' + y + 'L' + x + ' ' + (y + h) + 'L' + (x - h) + ' ' + y + 'Z', fill: 'none', stroke: GREY, 'stroke-width': 2.600}, 'obs-diamond');
  });
  dotLats.forEach((la, i) => mk(marks, 'circle', {cx: xS(la), cy: yS(dotVals[i]), r: 4, fill: '#000'}, 'obs-dot'));
  crossLats.forEach((la, i) => drawCross(marks, xS(la), yS(crossVals[i]), 7, 2.800, 'obs-cross'));
})();
</script>
</body>
</html>
